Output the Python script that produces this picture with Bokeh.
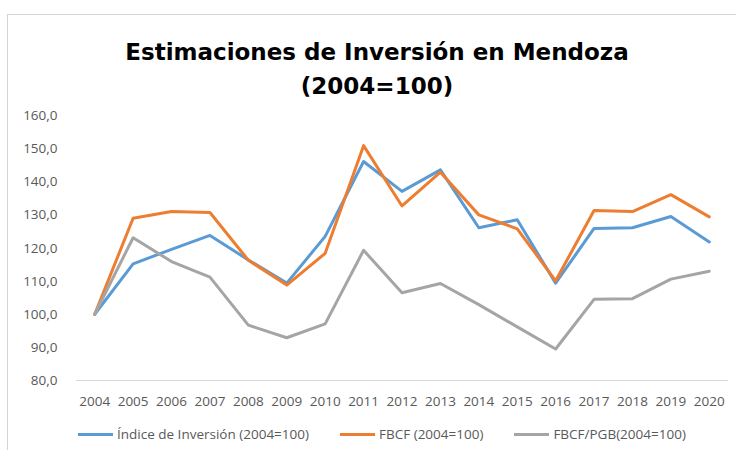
from bokeh.plotting import figure
from bokeh.models import (FactorRange, Range1d, FixedTicker, Legend, LegendItem,
                          Label, Span, ColumnDataSource, InlineStyleSheet)
from bokeh.core.properties import value
from bokeh.embed import file_html
from bokeh.resources import INLINE

years = ["2004", "2005", "2006", "2007", "2008", "2009", "2010", "2011", "2012",
         "2013", "2014", "2015", "2016", "2017", "2018", "2019", "2020"]
indice = [100.0, 115.2, 119.6, 123.8, 116.4, 109.4, 123.5, 146.1, 137.1,
          143.6, 126.1, 128.5, 109.4, 125.9, 126.1, 129.5, 121.8]
fbcf = [100.0, 129.0, 131.0, 130.7, 116.3, 108.8, 118.4, 150.9, 132.7,
        142.9, 130.0, 125.8, 110.1, 131.3, 131.0, 136.1, 129.4]
fbcf_pgb = [100.0, 123.1, 115.9, 111.2, 96.7, 92.9, 97.1, 119.3, 106.5,
            109.3, 102.9, 96.2, 89.5, 104.5, 104.7, 110.6, 113.0]
y_ticks = [80, 90, 100, 110, 120, 130, 140, 150, 160]
y_tick_labels = ["80,0", "90,0", "100,0", "110,0", "120,0", "130,0", "140,0", "150,0", "160,0"]
series_names = ["Índice de Inversión (2004=100)", "FBCF (2004=100)", "FBCF/PGB(2004=100)"]
title_lines = ["Estimaciones de Inversión en Mendoza", "(2004=100)"]

FONT = "Open Sans"
TXT = "#595959"

# layout: the value axis runs from 80 (380 px from top) to 160 (115 px from top)
W, H = 736, 450
AX_TOP, AX_BOT = 115, 380
y_lo, y_hi = y_ticks[0], y_ticks[-1]
ppu = (AX_BOT - AX_TOP) / (y_hi - y_lo)
y_start = y_lo - (H - AX_BOT) / ppu
y_end = y_hi + AX_TOP / ppu

p = figure(width=W, height=H, x_range=FactorRange(*years, range_padding=0),
           y_range=Range1d(y_start, y_end), output_backend="svg", toolbar_location=None,
           x_axis_location=None,
           min_border_left=75, min_border_right=8, min_border_top=0,
           min_border_bottom=0)
p.outline_line_color = None
p.xgrid.grid_line_color = None
p.ygrid.grid_line_color = None
p.background_fill_color = "white"
p.border_fill_color = "white"

# chart-area frame (light grey line at top and left)
p.stylesheets = [InlineStyleSheet(css=(
    ":host { position: relative; }"
    ":host::after { content: ''; position: absolute; left: 7px; top: 14px; "
    "right: 0; bottom: 0; border-left: 1px solid #D4D4D4; "
    "border-top: 1px solid #D4D4D4; pointer-events: none; }"))]

# category axis baseline
p.add_layout(Span(location=y_lo, dimension="width", line_color="#D9D9D9", line_width=1))

src = ColumnDataSource(dict(year=years, a=indice, b=fbcf, c=fbcf_pgb,
                            base=[y_lo] * len(years)))
colors = ["#5B9BD5", "#ED7D31", "#A5A5A5"]
renderers = []
for key, col in zip(["a", "b", "c"], colors):
    r = p.line("year", key, source=src, line_color=col, line_width=3,
               line_join="round", line_cap="round")
    renderers.append(r)

# category labels under the baseline
p.text(x="year", y="base", text="year", source=src, y_offset=21,
       text_align="center", text_baseline="middle", text_font=value(FONT),
       text_font_size="13.5px", text_color=TXT)

# y axis
p.yaxis.ticker = FixedTicker(ticks=y_ticks)
p.yaxis.major_label_overrides = {t: l for t, l in zip(y_ticks, y_tick_labels)}
p.yaxis.axis_line_color = None
p.yaxis.major_tick_line_color = None
p.yaxis.minor_tick_line_color = None
p.yaxis.major_tick_out = 0
p.yaxis.major_tick_in = 0
p.yaxis.major_label_standoff = 18
p.yaxis.major_label_text_font = FONT
p.yaxis.major_label_text_font_size = "13.5px"
p.yaxis.major_label_text_color = TXT

legend = Legend(items=[LegendItem(label=n, renderers=[r]) for n, r in zip(series_names, renderers)],
                orientation="horizontal", location=(3, 6), padding=0, margin=0,
                spacing=31, glyph_width=35, glyph_height=20, label_standoff=4,
                label_text_font=FONT, label_text_font_size="13.5px",
                label_text_color=TXT, border_line_color=None,
                background_fill_alpha=0)
p.add_layout(legend, "center")

for txt, yb in zip(title_lines, [H - 51.7, H - 85.7]):
    p.add_layout(Label(x=301.5, y=yb, x_units="screen", y_units="screen", text=txt,
                       text_font="DejaVu Sans", text_font_style="bold",
                       text_font_size="23px", text_color="black",
                       text_align="center", text_baseline="alphabetic"))

open("out.html", "w").write(file_html(p, INLINE))
